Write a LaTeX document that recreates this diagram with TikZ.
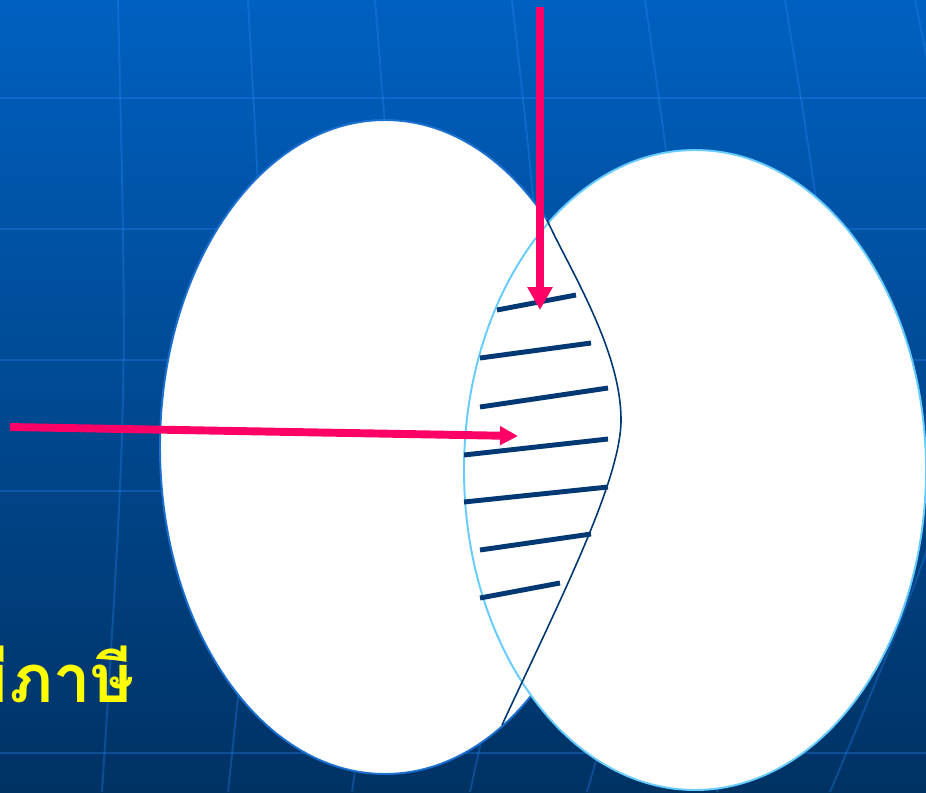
\documentclass[tikz,border=0pt]{standalone}
\usepackage{fontspec}
\usepackage{xcolor}
\usetikzlibrary{arrows.meta}
\newfontfamily\thaifont[Script=Thai]{Loma}
\definecolor{slidetop}{HTML}{0060C0}
\definecolor{slidebottom}{HTML}{003264}
\definecolor{gridlight}{HTML}{2A8CFF}
\definecolor{setedge}{HTML}{1A70D0}
\definecolor{setedgelight}{HTML}{66CCFF}
\definecolor{hatchnavy}{HTML}{003873}
\definecolor{arrowpink}{HTML}{FF0066}
\definecolor{labelyellow}{HTML}{FFFF00}

\begin{document}
\begin{tikzpicture}[x=0.02cm, y=-0.02cm,
    gridline/.style={draw=gridlight, opacity=0.3, line width=1.1pt},
    setshape/.style={fill=white, line width=1.1pt},
    hatch/.style={draw=hatchnavy, line width=2.8pt},
    pointer/.style={draw=arrowpink, line width=4.5pt}]
  \useasboundingbox (0,0) rectangle (926,792);
  \clip (0,0) rectangle (926,792);
  \shade[top color=slidetop, bottom color=slidebottom] (0,0) rectangle (926,792);
  \foreach \ypos in {98,229,360,491,753}
    \draw[gridline] (0,\ypos) -- (926,\ypos);
  \foreach \xtop/\xmid/\xbot in {118/123/102, 248/262/228, 375/396/352,
      512/540/470, 645/680/587, 785/825/717, 915/965/830}
    \draw[gridline] (\xtop,0) .. controls ({(8*\xmid-\xtop-\xbot)/6},396) .. (\xbot,792);

  \draw[setshape, draw=setedge] (385,447) ellipse [x radius=225, y radius=327];
  \draw[setshape, draw=setedgelight] (695,470) ellipse [x radius=231, y radius=320];
  \draw[draw=hatchnavy, line width=0.9pt] (547,220) .. controls (570,270) and (621,350) .. (621,420)
    .. controls (621,480) and (560,600) .. (502,725);

  \foreach \xa/\ya/\xb/\yb in {497/310/576/295, 480/358/591/343, 480/407/608/388,
      464/455/608/439, 464/502/608/487, 480/550/591/534, 480/598/560/583}
    \draw[hatch] (\xa,\ya) -- (\xb,\yb);

  \coordinate (downfrom) at (540,7);
  \coordinate (downto) at (540,310);
  \coordinate (rightfrom) at (10,427);
  \coordinate (rightto) at (518,436);
  \draw[pointer, -{Triangle[length=0.46cm, width=0.48cm]}] (downfrom) -- (downto);
  \draw[pointer, -{Triangle[length=0.36cm, width=0.36cm]}] (rightfrom) -- (rightto);

  \node[anchor=base east, text=labelyellow, inner sep=0pt,
    font=\thaifont\bfseries\fontsize{38}{44}\selectfont] (taxlabel) at (135,702) {มีภาษี};
\end{tikzpicture}
\end{document}
